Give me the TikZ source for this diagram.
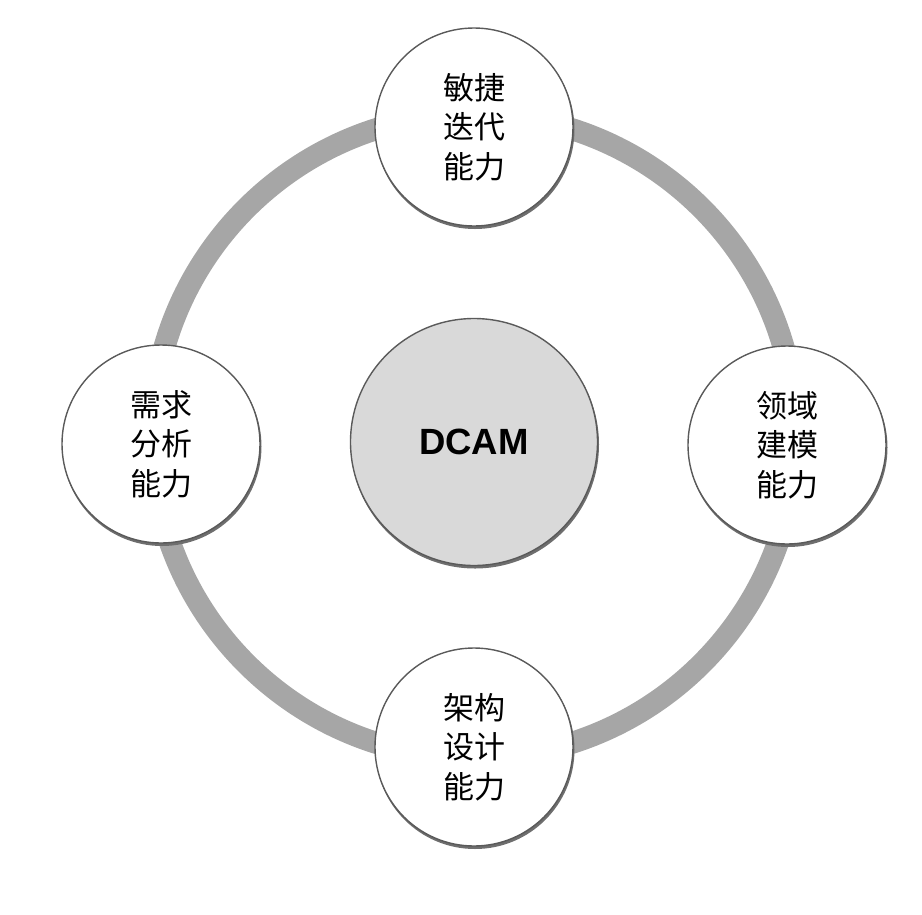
\documentclass[tikz,border=0pt]{standalone}
\usepackage{fontspec}
\newfontfamily\cjk{Noto Sans CJK SC}
\newfontfamily\arialb{Liberation Sans}[BoldFont={Liberation Sans Bold}]
\definecolor{ringgray}{HTML}{A6A6A6}
\definecolor{edgegray}{HTML}{5A5A5A}
\definecolor{shadowgray}{HTML}{6E6E6E}
\definecolor{hubfill}{HTML}{D9D9D9}
\begin{document}
\begin{tikzpicture}[x=1pt,y=-1pt,
  ring/.style={draw=ringgray,line width=22pt},
  sat/.style={circle,minimum size=198pt,inner sep=0pt,fill=white,draw=edgegray,line width=1.4pt,
    align=center,font=\cjk\fontsize{31}{39.5}\selectfont},
  hub/.style={circle,minimum size=247pt,inner sep=0pt,fill=hubfill,draw=edgegray,line width=1.4pt,
    font=\arialb\bfseries\fontsize{36.5}{40}\selectfont},
  shade/.style={circle,inner sep=0pt,fill=shadowgray}]
\useasboundingbox (0,0) rectangle (922,914);
\coordinate (c) at (474,436);
\draw[ring] (c) circle[radius=322pt];
% shadows
\node[shade,minimum size=199pt] at (475,129.5) {};
\node[shade,minimum size=199pt] at (162,446.5) {};
\node[shade,minimum size=199pt] at (788,447.5) {};
\node[shade,minimum size=199pt] at (475,749.5) {};
\node[shade,minimum size=248pt] at (475,444.5) {};
% nodes
\node[hub] (hub) at (474,442) {DCAM};
\node[sat] (top) at (474,127) {敏捷\\迭代\\能力};
\node[sat] (left) at (161,444) {需求\\分析\\能力};
\node[sat] (right) at (787,445) {领域\\建模\\能力};
\node[sat] (bottom) at (474,747) {架构\\设计\\能力};
\end{tikzpicture}
\end{document}
